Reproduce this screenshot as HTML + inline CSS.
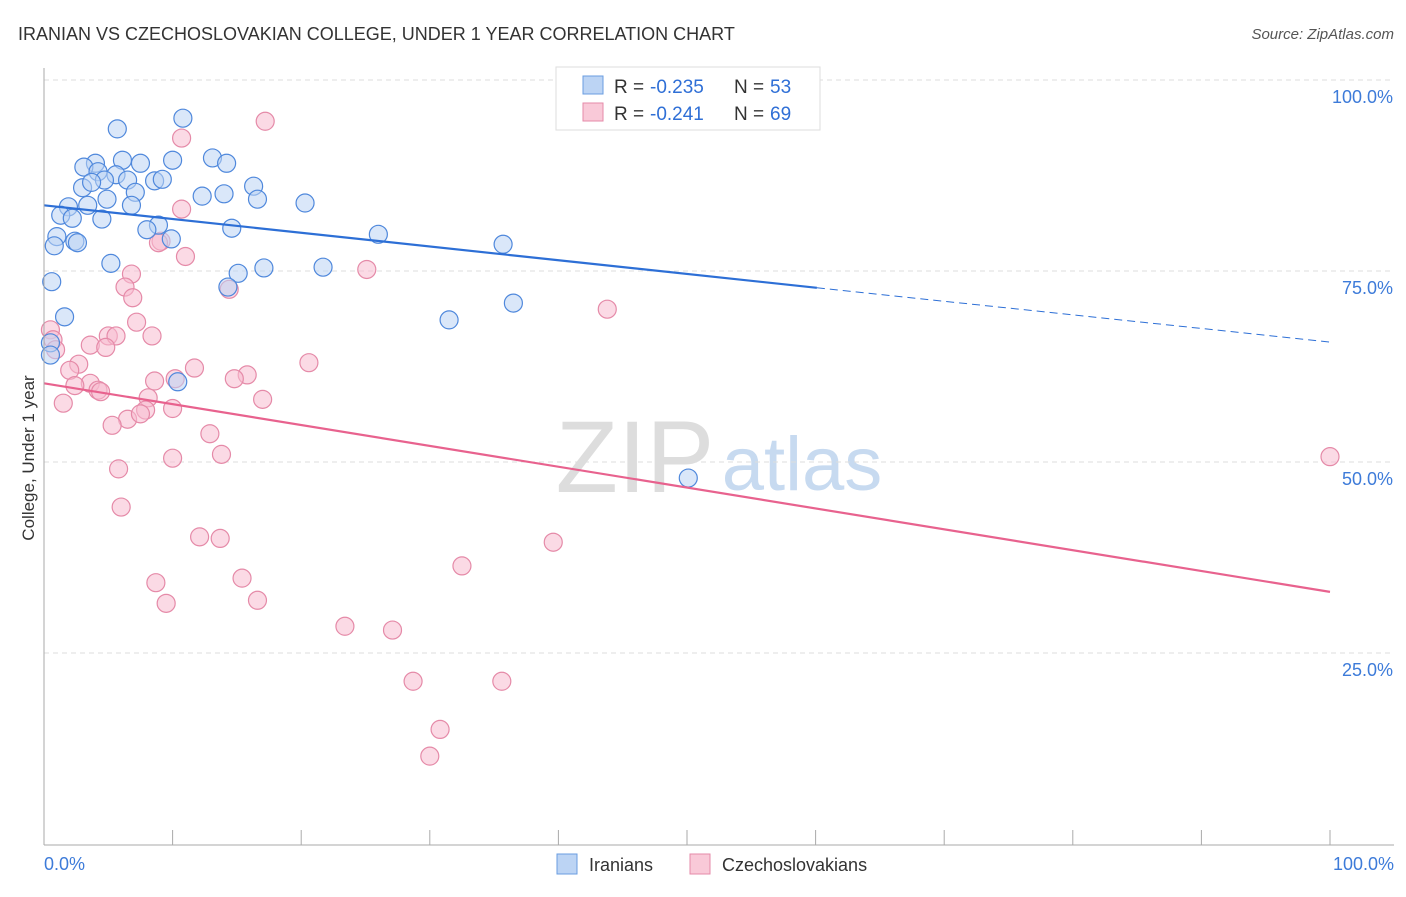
<!DOCTYPE html>
<html><head><meta charset="utf-8"><style>
body{margin:0;background:#fff;font-family:"Liberation Sans",sans-serif;}
svg text{font-family:"Liberation Sans",sans-serif;}
</style></head><body>
<svg id="chart" width="1406" height="892">
<text x="18" y="40" font-size="18" fill="#333">IRANIAN VS CZECHOSLOVAKIAN COLLEGE, UNDER 1 YEAR CORRELATION CHART</text>
<text x="1394" y="39" font-size="15" fill="#555" font-style="italic" text-anchor="end">Source: ZipAtlas.com</text>
<text x="34" y="458" font-size="17" fill="#333" text-anchor="middle" transform="rotate(-90 34 458)">College, Under 1 year</text>
<text x="635" y="492" font-size="102" fill="#ddd" font-family="Liberation Serif" text-anchor="middle">ZIP</text>
<text x="802" y="490" font-size="76" fill="#c7daf0" text-anchor="middle">atlas</text>
<g id="grid"></g><g id="ticks"></g><g id="pts"></g><g id="lines"></g>
<line x1="44" y1="68" x2="44" y2="845" stroke="#aaa"/>
<line x1="44" y1="845" x2="1394" y2="845" stroke="#aaa"/>
<text x="44" y="870" font-size="18" fill="#3d7bd9">0.0%</text>
<text x="1394" y="870" font-size="18" fill="#3d7bd9" text-anchor="end">100.0%</text>
<g>
<rect x="556" y="67" width="264" height="63" fill="#fff" stroke="#ddd"/>
<rect x="583" y="76" width="20" height="18" fill="#bcd4f4" stroke="#6a9de0"/>
<rect x="583" y="103" width="20" height="18" fill="#f9c9d8" stroke="#e58aa8"/>
<text x="614" y="93" font-size="19" fill="#333">R =</text>
<text x="650" y="93" font-size="19" fill="#2f6fd6">-0.235</text>
<text x="734" y="93" font-size="19" fill="#333">N =</text>
<text x="770" y="93" font-size="19" fill="#2f6fd6">53</text>
<text x="614" y="120" font-size="19" fill="#333">R =</text>
<text x="650" y="120" font-size="19" fill="#2f6fd6">-0.241</text>
<text x="734" y="120" font-size="19" fill="#333">N =</text>
<text x="770" y="120" font-size="19" fill="#2f6fd6">69</text>
</g>
<g>
<rect x="557" y="854" width="20" height="20" fill="#bcd4f4" stroke="#6a9de0"/>
<text x="589" y="871" font-size="18" fill="#333">Iranians</text>
<rect x="690" y="854" width="20" height="20" fill="#f9c9d8" stroke="#e58aa8"/>
<text x="722" y="871" font-size="18" fill="#333">Czechoslovakians</text>
</g>
</svg>
<script>
const yTicks=[100,75,50,25];
const yTickLabels=["100.0%","75.0%","50.0%","25.0%"];
const xTicks=[0,10,20,30,40,50,60,70,80,90,100];
const blueX=[10.8,5.7,6.1,4.0,7.5,10.0,13.1,14.2,3.1,4.2,5.6,4.7,6.5,8.6,9.2,3.0,3.7,16.3,7.1,12.3,14.0,16.6,20.3,4.9,6.8,1.9,3.4,1.3,2.2,4.5,8.9,8.0,14.6,26.0,1.0,9.9,2.4,2.6,0.8,35.7,5.2,15.1,17.1,21.7,0.6,14.3,36.5,31.5,1.6,0.5,0.5,10.4,50.1,54.5];
const blueY=[95.0,93.6,89.5,89.1,89.1,89.5,89.8,89.1,88.6,88.0,87.6,86.9,86.9,86.8,87.0,85.9,86.6,86.1,85.3,84.8,85.1,84.4,83.9,84.4,83.6,83.4,83.6,82.3,81.9,81.8,81.0,80.4,80.6,79.8,79.5,79.2,78.9,78.7,78.3,78.5,76.0,74.7,75.4,75.5,73.6,72.9,70.8,68.6,69.0,65.6,64.0,60.5,47.9,100];
const pinkX=[17.2,10.7,10.7,9.1,8.9,11.0,25.1,6.8,6.3,6.9,14.4,43.8,7.2,8.4,0.5,0.7,0.9,5.0,5.6,3.6,4.8,20.6,11.7,2.7,2.0,15.8,3.6,8.6,14.8,10.2,2.4,4.2,4.4,8.1,17.0,1.5,7.9,10.0,6.5,7.5,5.3,12.9,10.0,13.8,5.8,6.0,100,12.1,13.7,39.6,32.5,8.7,15.4,9.5,16.6,23.4,27.1,28.7,35.6,30.8,30.0];
const pinkY=[94.6,92.4,83.1,78.9,78.7,76.9,75.2,74.6,72.9,71.5,72.6,70.0,68.3,66.5,67.3,66.0,64.7,66.5,66.5,65.3,65.0,63.0,62.3,62.8,62.0,61.4,60.3,60.6,60.9,60.9,60.0,59.4,59.2,58.4,58.2,57.7,56.8,57.0,55.6,56.3,54.8,53.7,50.5,51.0,49.1,44.1,50.7,40.2,40.0,39.5,36.4,34.2,34.8,31.5,31.9,28.5,28.0,21.3,21.3,15.0,11.5];
const blueTrend=[83.6,72.8,65.7];
const pinkTrend=[60.3,33.0];
const X0=44,X1=1330,Y0=844,PY=7.64;
const sx=v=>X0+(X1-X0)*v/100, sy=v=>Y0-PY*v;
const NS="http://www.w3.org/2000/svg";
function mk(tag,attrs,parent){const e=document.createElementNS(NS,tag);for(const k in attrs)e.setAttribute(k,attrs[k]);document.getElementById(parent).appendChild(e);return e;}
yTicks.forEach((t,i)=>{
 const l=mk('line',{x1:44,x2:1394,y1:sy(t),y2:sy(t),stroke:'#ddd','stroke-dasharray':'5,4'},'grid');
 
 
 const tx=mk('text',{x:1393,y:sy(t)+23,'font-size':18,fill:'#3d7bd9','text-anchor':'end'},'grid');
 tx.textContent=yTickLabels[i];
 
 
});
xTicks.forEach(t=>{
 const l=mk('line',{x1:sx(t),x2:sx(t),y1:830,y2:845,stroke:'#aaa'},'ticks');
 
 
});
function pts(xs,ys,fill,stroke,name){xs.forEach((x,i)=>{
 const c=mk('circle',{cx:sx(x),cy:sy(ys[i]),r:9,fill:fill,'fill-opacity':0.55,stroke:stroke,'stroke-width':1.2},'pts');
 
 
});}
pts(pinkX,pinkY,'#f7bcd0','#e58aa8','czechoslovakian-point');
pts(blueX,blueY,'#bcd4f4','#4f88dc','iranian-point');
let l=mk('line',{x1:sx(0),y1:sy(blueTrend[0]),x2:sx(60.1),y2:sy(blueTrend[1]),stroke:'#2d6fd6','stroke-width':2.2},'lines');


l=mk('line',{x1:sx(60.1),y1:sy(blueTrend[1]),x2:sx(100),y2:sy(blueTrend[2]),stroke:'#2d6fd6','stroke-width':1,'stroke-dasharray':'8,5'},'lines');


l=mk('line',{x1:sx(0),y1:sy(pinkTrend[0]),x2:sx(100),y2:sy(pinkTrend[1]),stroke:'#e8628e','stroke-width':2.2},'lines');


</script>
</body></html>
